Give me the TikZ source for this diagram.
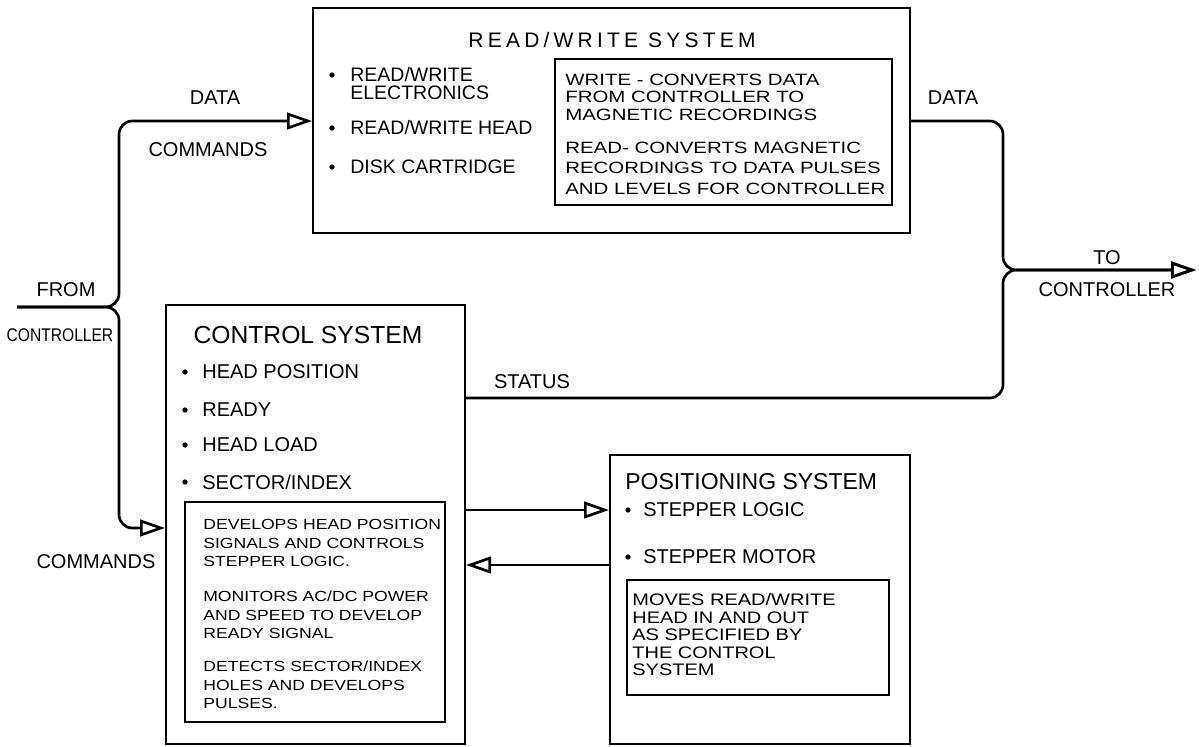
\documentclass[tikz,border=0pt]{standalone}
\usepackage{fontspec}
\setmainfont{Liberation Sans}
\newfontfamily\handw{Liberation Sans}[FakeStretch=1.2]
\newfontfamily\handx{Liberation Sans}[FakeStretch=1.25]
\newfontfamily\handn{Liberation Sans}[FakeStretch=0.85]
\usetikzlibrary{arrows.meta,fit}
\begin{document}
\begin{tikzpicture}[x=0.6pt,y=-0.6pt,
  box/.style={draw, line width=1.2pt, inner sep=0pt},
  conn/.style={line width=1.6pt, rounded corners=8pt},
  arr/.style={-{Triangle[open,length=15pt,width=10pt]}},
  lbl/.style={font=\fontsize{12}{12}\selectfont, inner sep=0pt},
  item/.style={font=\fontsize{11.7}{10.5}\selectfont, inner sep=0pt, anchor=west, align=left},
  note/.style={font=\handw\fontsize{9.5}{10.5}\selectfont, inner sep=0pt, anchor=west, align=left},
  bul/.style={fill=black}
]
\useasboundingbox (0,0) rectangle (1199,747);
\fill[white] (0,0) rectangle (1199,747);

% boxes
\node[box, fit={(313,8) (910,233)}] (rw) {};
\node[box, fit={(555,59) (892,205)}] (rwin) {};
\node[box, fit={(166,305) (465,744)}] (ctl) {};
\node[box, fit={(185,502) (445,722)}] (ctlin) {};
\node[box, fit={(610,455) (910,744)}] (pos) {};
\node[box, fit={(627,580) (889,695)}] (posin) {};

% titles
\node[inner sep=0pt, font=\fontsize{12.6}{12.6}\selectfont\addfontfeature{LetterSpace=20}] (rwT) at (612,40) {READ/WRITE SYSTEM};
\node[inner sep=0pt, font=\fontsize{14.8}{14.8}\selectfont] (ctlT) at (308,335) {CONTROL SYSTEM};
\node[inner sep=0pt, anchor=west, font=\fontsize{13.8}{13.8}\selectfont] (posT) at (625,482) {POSITIONING SYSTEM};

% read/write items
\fill[bul] (332,75) circle[radius=1.6pt];
\fill[bul] (332,128) circle[radius=1.6pt];
\fill[bul] (332,167) circle[radius=1.6pt];
\node[item] (rwb1) at (350,83.5) {READ/WRITE\\ELECTRONICS};
\node[item] (rwb2) at (350,128) {READ/WRITE HEAD};
\node[item] (rwb3) at (350,167) {DISK CARTRIDGE};
\node[note, font=\handx\fontsize{9.8}{10.5}\selectfont] (rwn1) at (565,97) {WRITE - CONVERTS DATA\\FROM CONTROLLER TO\\MAGNETIC RECORDINGS};
\node[note, font=\handx\fontsize{9.8}{12.3}\selectfont] (rwn2) at (565,168) {READ- CONVERTS MAGNETIC\\RECORDINGS TO DATA PULSES\\AND LEVELS FOR CONTROLLER};

% control items
\foreach \yy in {372,410,445,482} {\fill[bul] (185,\yy) circle[radius=1.6pt];}
\node[item, font=\fontsize{12}{12}\selectfont] (cb1) at (202,372) {HEAD POSITION};
\node[item, font=\fontsize{12}{12}\selectfont] (cb2) at (202,410) {READY};
\node[item, font=\fontsize{12}{12}\selectfont] (cb3) at (202,445) {HEAD LOAD};
\node[item, font=\fontsize{12}{12}\selectfont] (cb4) at (202,482) {SECTOR/INDEX};
\node[note, font=\handw\fontsize{8.8}{11.1}\selectfont] (cn1) at (203,543) {DEVELOPS HEAD POSITION\\SIGNALS AND CONTROLS\\STEPPER LOGIC.};
\node[note, font=\handw\fontsize{8.8}{11.1}\selectfont] (cn2) at (203,615) {MONITORS AC/DC POWER\\AND SPEED TO DEVELOP\\READY SIGNAL};
\node[note, font=\handw\fontsize{8.8}{11.1}\selectfont] (cn3) at (203,685) {DETECTS SECTOR/INDEX\\HOLES AND DEVELOPS\\PULSES.};

% positioning items
\fill[bul] (628,510) circle[radius=1.6pt];
\fill[bul] (628,557) circle[radius=1.6pt];
\node[item, font=\fontsize{12}{12}\selectfont] (pb1) at (643,510) {STEPPER LOGIC};
\node[item, font=\fontsize{12}{12}\selectfont] (pb2) at (643,557) {STEPPER MOTOR};
\node[note, font=\handw\fontsize{10}{10.5}\selectfont] (pn) at (632,635) {MOVES READ/WRITE\\HEAD IN AND OUT\\AS SPECIFIED BY\\THE CONTROL\\SYSTEM};

% labels
\node[lbl] (dataL) at (215,98) {DATA};
\node[lbl] (cmdT) at (208,150) {COMMANDS};
\node[lbl] (from) at (66,290) {FROM};
\node[lbl, font=\handn\fontsize{11}{11}\selectfont] (ctrlL) at (60,335) {CONTROLLER};
\node[lbl] (cmdB) at (96,562) {COMMANDS};
\node[lbl] (status) at (532,382) {STATUS};
\node[lbl] (dataR) at (953,98) {DATA};
\node[lbl] (to) at (1107,258) {TO};
\node[lbl] (ctrlR) at (1107,290) {CONTROLLER};

% connectors
\coordinate (fc) at (17,307);
\coordinate (jl) at (119,307);
\coordinate (jr) at (1003,270);
\coordinate (tc) at (1196,270);
\draw[conn,arr] (fc) -- (jl) -- (119,121) -- (rw.west |- 0,121);
\draw[conn,arr] (fc) -- (jl) -- (119,528) -- (ctl.west |- 0,528);
\draw[conn,arr] (rw.east |- 0,121) -- (1003,121) -- (jr) -- (tc);
\draw[conn,arr] (ctl.east |- 0,398) -- (1003,398) -- (jr) -- (tc);
\draw[conn,arr] (ctl.east |- 0,510) -- (pos.west |- 0,510);
\draw[conn,arr] (pos.west |- 0,565) -- (ctl.east |- 0,565);
\end{tikzpicture}
\end{document}
